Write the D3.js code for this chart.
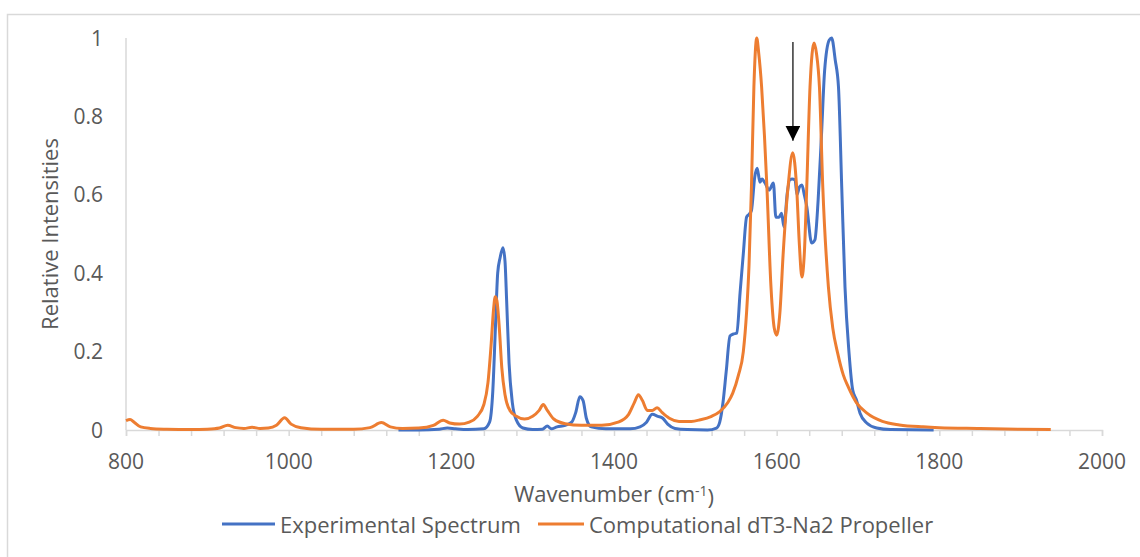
<!DOCTYPE html>
<html lang="en">
<head>
  <meta charset="UTF-8">
  <title>Relative Intensities vs Wavenumber</title>
  <script src="https://d3js.org/d3.v7.min.js"></script>
  <style>
    body { margin: 0; background: #fff; }
    text { font-family: "Open Sans", "Noto Sans", sans-serif; fill: #595959; }
  </style>
</head>
<body>
<script>
// Experimental spectrum (blue)
const expWavenumber = [1135, 1160, 1185, 1195, 1205, 1220, 1240, 1247, 1251, 1254, 1257, 1260, 1263.5, 1266, 1268, 1271, 1275, 1280, 1288, 1300,
  1312, 1318, 1323, 1330, 1340, 1348, 1353, 1358, 1362, 1366, 1372, 1390, 1420, 1432, 1440, 1447, 1454, 1460, 1466, 1475, 1490, 1515,
  1526, 1530, 1534, 1538, 1542.6, 1547, 1551, 1555, 1559, 1563, 1566, 1569, 1573, 1576, 1579.5, 1582, 1585.7, 1590.6, 1596, 1599,
  1603, 1606, 1609, 1613, 1616, 1619, 1622.6, 1625, 1628, 1631, 1634, 1637, 1643, 1647, 1651, 1655, 1659, 1664.7, 1667.6, 1672,
  1676, 1680, 1684, 1689, 1693.5, 1698, 1702.5, 1710.7, 1723, 1740, 1793];
const expIntensity = [0, 0, 0.002, 0.005, 0.003, 0.001, 0.003, 0.02, 0.1, 0.25, 0.4, 0.44, 0.465, 0.43, 0.33, 0.17, 0.07, 0.025, 0.005, 0.001,
  0.002, 0.01, 0.003, 0.008, 0.012, 0.02, 0.045, 0.085, 0.075, 0.03, 0.008, 0.003, 0.003, 0.008, 0.02, 0.04, 0.035, 0.03, 0.015, 0.004, 0.001, 0,
  0.005, 0.02, 0.07, 0.15, 0.24, 0.245, 0.247, 0.35, 0.45, 0.543, 0.55, 0.56, 0.645, 0.668, 0.632, 0.64, 0.63, 0.612, 0.63, 0.543,
  0.543, 0.553, 0.518, 0.604, 0.638, 0.64, 0.638, 0.6, 0.62, 0.625, 0.6, 0.57, 0.477, 0.485, 0.587, 0.748, 0.918, 0.995, 1.0, 0.944,
  0.875, 0.62, 0.365, 0.196, 0.102, 0.077, 0.043, 0.018, 0.005, 0.001, 0];

// Computational dT3-Na2 propeller (orange)
const compWavenumber = [800, 805, 810, 818, 830, 850, 880, 900, 915, 925, 935, 945, 955, 965, 975, 985, 995, 1003, 1015, 1040, 1080, 1100,
  1114, 1125, 1140, 1160, 1178, 1190, 1198, 1210, 1222, 1232, 1240, 1245, 1249, 1252, 1254, 1256, 1259, 1262, 1266, 1272, 1280, 1290,
  1300, 1308, 1313, 1318, 1326, 1340, 1360, 1385, 1405, 1418, 1425, 1430, 1435, 1441, 1447, 1453, 1459, 1468, 1480, 1495, 1506, 1520,
  1530, 1540, 1546, 1553, 1559, 1563, 1566, 1569, 1572, 1575.5, 1578, 1581.5, 1585, 1588, 1593, 1597, 1600, 1604, 1608, 1614, 1619.7,
  1624.5, 1628, 1631, 1634, 1637, 1641, 1646, 1649, 1652.6, 1656.7, 1663.6, 1669, 1675, 1682, 1688, 1698, 1711, 1730, 1751, 1780,
  1800, 1850, 1900, 1937];
const compIntensity = [0.024, 0.027, 0.02, 0.008, 0.004, 0.002, 0.001, 0.002, 0.005, 0.012, 0.006, 0.004, 0.007, 0.004, 0.005, 0.012, 0.031, 0.015, 0.006, 0.002, 0.002, 0.006,
  0.019, 0.008, 0.004, 0.005, 0.012, 0.025, 0.018, 0.015, 0.02, 0.035, 0.065, 0.12, 0.22, 0.31, 0.34, 0.33, 0.26, 0.16, 0.09, 0.05, 0.035, 0.028,
  0.035, 0.05, 0.065, 0.05, 0.028, 0.016, 0.012, 0.012, 0.02, 0.04, 0.07, 0.09, 0.075, 0.05, 0.05, 0.057, 0.045, 0.03, 0.022, 0.022, 0.026, 0.035,
  0.047, 0.07, 0.094, 0.14, 0.2, 0.3, 0.42, 0.62, 0.875, 1.0, 0.96, 0.875, 0.75, 0.62, 0.365, 0.26, 0.242, 0.3, 0.45, 0.62, 0.707,
  0.62, 0.47, 0.39, 0.45, 0.62, 0.875, 0.987, 0.96, 0.875, 0.62, 0.365, 0.26, 0.196, 0.14, 0.11, 0.07, 0.043, 0.022, 0.013, 0.008,
  0.006, 0.004, 0.002, 0.001];

const xTicks = [800, 1000, 1200, 1400, 1600, 1800, 2000];
const yTicks = [0, 0.2, 0.4, 0.6, 0.8, 1];
const seriesNames = ["Experimental Spectrum", "Computational dT3-Na2 Propeller"];
const seriesColors = ["#4472C4", "#ED7D31"];

// annotation arrow (wavenumber, from intensity, to intensity)
const arrowX = 1620, arrowFrom = 0.99, arrowTo = 0.738;

const width = 1140, height = 557;
const svg = d3.select("body").append("svg")
  .attr("width", width)
  .attr("height", height);

// chart frame
svg.append("rect")
  .attr("x", 7.5).attr("y", 14.5)
  .attr("width", 1160).attr("height", 580)
  .attr("fill", "none")
  .attr("stroke", "#D9D9D9")
  .attr("stroke-width", 1.5);

const x = d3.scaleLinear().domain([800, 2000]).range([126, 1102]);
const y = d3.scaleLinear().domain([0, 1]).range([430, 38]);

// y axis line (no ticks)
svg.append("line")
  .attr("x1", x(800)).attr("x2", x(800))
  .attr("y1", y(1)).attr("y2", y(0))
  .attr("stroke", "#D9D9D9").attr("stroke-width", 1.5);

svg.selectAll(".ylabel")
  .data(yTicks)
  .enter().append("text")
  .attr("class", "ylabel")
  .attr("x", 103)
  .attr("y", d => y(d))
  .attr("dy", "0.36em")
  .attr("text-anchor", "end")
  .style("font-size", "21px")
  .text(d => d);

// x axis
const xAxis = svg.append("g")
  .attr("transform", `translate(0,${y(0)})`)
  .call(d3.axisBottom(x).tickValues(d3.range(800, 2001, 40)).tickSize(6).tickFormat(""));
xAxis.select(".domain").attr("stroke", "#D9D9D9").attr("stroke-width", 1.5);
xAxis.selectAll(".tick line").attr("stroke", "#D9D9D9").attr("stroke-width", 1.5);

svg.selectAll(".xlabel")
  .data(xTicks)
  .enter().append("text")
  .attr("class", "xlabel")
  .attr("x", d => x(d))
  .attr("y", 461)
  .attr("dy", "0.36em")
  .attr("text-anchor", "middle")
  .style("font-size", "21px")
  .text(d => d);

// axis titles
svg.append("text")
  .attr("transform", `translate(50,${(y(0) + y(1)) / 2}) rotate(-90)`)
  .attr("text-anchor", "middle")
  .attr("dy", "0.36em")
  .style("font-size", "22px")
  .text("Relative Intensities");

const xt = svg.append("text")
  .attr("x", (x(800) + x(2000)) / 2)
  .attr("y", 494)
  .attr("dy", "0.36em")
  .attr("text-anchor", "middle")
  .style("font-size", "22px");
xt.append("tspan").text("Wavenumber (cm");
xt.append("tspan").attr("dy", "-0.4em").style("font-size", "14px").text("-1");
xt.append("tspan").attr("dy", "0.4em").text(")");

// series
const line = d3.line()
  .x(d => x(d[0]))
  .y(d => y(d[1]))
  .curve(d3.curveMonotoneX);

const expData = expWavenumber.map((w, i) => [w, expIntensity[i]]);
const compData = compWavenumber.map((w, i) => [w, compIntensity[i]]);

svg.append("path")
  .datum(expData)
  .attr("d", line)
  .attr("fill", "none")
  .attr("stroke", seriesColors[0])
  .attr("stroke-width", 3)
  .attr("stroke-linejoin", "round");

svg.append("path")
  .datum(compData)
  .attr("d", line)
  .attr("fill", "none")
  .attr("stroke", seriesColors[1])
  .attr("stroke-width", 3)
  .attr("stroke-linejoin", "round");

// arrow annotation
svg.append("defs").append("marker")
  .attr("id", "arrowhead")
  .attr("viewBox", "0 0 10 10")
  .attr("refX", 10).attr("refY", 5)
  .attr("markerWidth", 15).attr("markerHeight", 15)
  .attr("markerUnits", "userSpaceOnUse")
  .attr("orient", "auto")
  .append("path")
  .attr("d", "M0,0 L10,5 L0,10 Z")
  .attr("fill", "#000");

svg.append("line")
  .attr("x1", x(arrowX)).attr("x2", x(arrowX))
  .attr("y1", y(arrowFrom)).attr("y2", y(arrowTo))
  .attr("stroke", "#000")
  .attr("stroke-width", 1.2)
  .attr("marker-end", "url(#arrowhead)");

// legend
const legendItems = [
  { name: seriesNames[0], color: seriesColors[0], x0: 222, x1: 275 },
  { name: seriesNames[1], color: seriesColors[1], x0: 538, x1: 584 }
];
const legend = svg.selectAll(".legend")
  .data(legendItems)
  .enter().append("g")
  .attr("class", "legend");

legend.append("line")
  .attr("x1", d => d.x0).attr("x2", d => d.x1)
  .attr("y1", 524).attr("y2", 524)
  .attr("stroke", d => d.color)
  .attr("stroke-width", 3);

legend.append("text")
  .attr("x", d => d.x1 + 5)
  .attr("y", 525)
  .attr("dy", "0.36em")
  .style("font-size", "22px")
  .text(d => d.name);
</script>
</body>
</html>
